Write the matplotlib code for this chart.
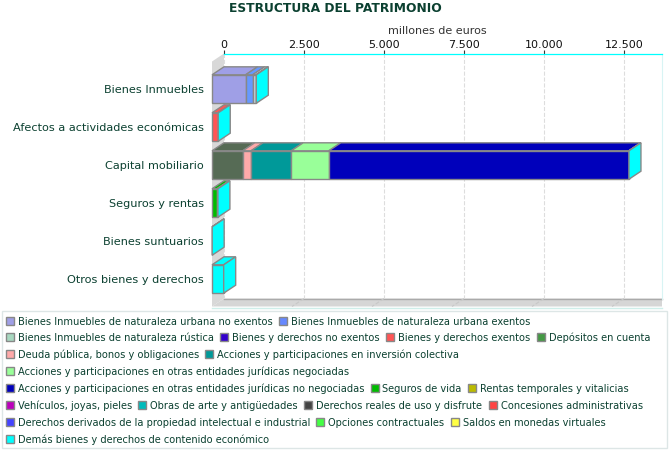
import matplotlib
matplotlib.use('Agg')
import matplotlib.pyplot as plt
from matplotlib.patches import Polygon, Rectangle
from matplotlib.transforms import Affine2D

# data, millones de euros
categories = ['Bienes Inmuebles', 'Afectos a actividades económicas', 'Capital mobiliario',
              'Seguros y rentas', 'Bienes suntuarios', 'Otros bienes y derechos']
urbana_no_exentos = [1050, 0, 0, 0, 0, 0]
urbana_exentos = [220, 0, 0, 0, 0, 0]
rustica = [110, 0, 0, 0, 0, 0]
bienes_exentos = [0, 190, 0, 0, 0, 0]
depositos = [0, 0, 960, 0, 0, 0]
deuda = [0, 0, 260, 0, 0, 0]
inversion_colectiva = [0, 0, 1255, 0, 0, 0]
negociadas = [0, 0, 1175, 0, 0, 0]
no_negociadas = [0, 0, 9375, 0, 0, 0]
seguros = [0, 0, 0, 155, 0, 0]
demas = [5, 5, 5, 30, 5, 365]

stack_values = [urbana_no_exentos, urbana_exentos, rustica, bienes_exentos, depositos, deuda,
                inversion_colectiva, negociadas, no_negociadas, seguros, demas]
stack_colors = ['#9f9fe6', '#6699ff', '#c4d8e0', '#ff5555', '#566b55', '#ffaaaa',
                '#009999', '#99ff99', '#0000bb', '#00bb00', '#00ffff']

xticks = [0, 2500, 5000, 7500, 10000, 12500]
xticklabels = ['0', '2.500', '5.000', '7.500', '10.000', '12.500']

legend_rows = [
    [('Bienes Inmuebles de naturaleza urbana no exentos', '#9f9fe6'),
     ('Bienes Inmuebles de naturaleza urbana exentos', '#6688ff')],
    [('Bienes Inmuebles de naturaleza rústica', '#a8d8c0'),
     ('Bienes y derechos no exentos', '#3300cc'),
     ('Bienes y derechos exentos', '#ff5555'),
     ('Depósitos en cuenta', '#449944')],
    [('Deuda pública, bonos y obligaciones', '#ffaaaa'),
     ('Acciones y participaciones en inversión colectiva', '#009999')],
    [('Acciones y participaciones en otras entidades jurídicas negociadas', '#99ff99')],
    [('Acciones y participaciones en otras entidades jurídicas no negociadas', '#0000bb'),
     ('Seguros de vida', '#00bb00'),
     ('Rentas temporales y vitalicias', '#bbbb00')],
    [('Vehículos, joyas, pieles', '#bb00bb'),
     ('Obras de arte y antigüedades', '#00bbbb'),
     ('Derechos reales de uso y disfrute', '#444444'),
     ('Concesiones administrativas', '#ff4444')],
    [('Derechos derivados de la propiedad intelectual e industrial', '#4444ff'),
     ('Opciones contractuales', '#44ff44'),
     ('Saldos en monedas virtuales', '#ffff44')],
    [('Demás bienes y derechos de contenido económico', '#00ffff')],
]

W, H = 670, 450
TEXT = '#0b4030'
EDGE = '#888888'
DX, DY = 12, 8  # profundidad 3d en pixeles

fig = plt.figure(figsize=(W / 100, H / 100), dpi=100)
ax = fig.add_axes([224 / W, 1 - 298.5 / H, 438 / W, (298.5 - 54) / H])
ax.set_xlim(0, 438 / 0.032)
ax.set_ylim(5.724, -0.711)
for s in ['left', 'bottom']:
    ax.spines[s].set_visible(False)
ax.spines['top'].set_color('#00ffff')
ax.spines['top'].set_linewidth(0.9)
ax.spines['right'].set_color('#d8f4f4')
ax.xaxis.tick_top()
ax.set_xticks(xticks)
ax.set_xticklabels(xticklabels, fontsize=8, color='#111111')
ax.tick_params(axis='x', length=3, width=0.8, color='#333333', pad=0)
# las etiquetas van centradas en la cara frontal, no en el fondo
ax.set_yticks([i + DY / 38 for i in range(len(categories))])
ax.set_yticklabels(categories, fontsize=8.15, color=TEXT)
ax.tick_params(axis='y', length=0, pad=14.4)
ax.grid(axis='x', color='#dddddd', linestyle='--', linewidth=0.8)
ax.set_axisbelow(True)

front = ax.transData + Affine2D().translate(-DX, -DY)
px = Affine2D().scale(1, -1).translate(0, H)  # pixeles de la imagen, y hacia abajo

# pared y suelo
fig.add_artist(Polygon([(212, 61.5), (224, 53.5), (224, 298.5), (212, 306.5)], closed=True,
                       fc='#d8d8d8', ec='none', transform=px, zorder=0.5))
fig.add_artist(Polygon([(212, 306.5), (224, 298.5), (662, 298.5), (662, 306.5)], closed=True,
                       fc='#d6d6d6', ec='none', transform=px, zorder=0.5))
fig.add_artist(plt.Line2D([224, 662], [298.5, 298.5], color='#aaaaaa', lw=1, transform=px, zorder=0.6))
fig.add_artist(plt.Line2D([212, 662], [307.5, 307.5], color='#cfeeea', lw=1, transform=px, zorder=0.6))
ax.patch.set_alpha(0)
ax.set_zorder(1)
for t in xticks[1:]:
    xp = 224 + t * 0.032
    fig.add_artist(plt.Line2D([xp, xp - 12], [298.5, 306.5], color='#c8c8c8', lw=0.8, ls='--',
                              transform=px, zorder=0.6))

bar_h = 28.4 / 38
for row in range(len(categories)):
    left = 0
    last_color = None
    y0, y1 = row - bar_h / 2, row + bar_h / 2
    for vals, color in zip(stack_values, stack_colors):
        v = vals[row]
        if v == 0:
            continue
        right = left + v
        ax.add_patch(Rectangle((left, y0), v, bar_h, fc=color, ec=EDGE, lw=1,
                               transform=front, zorder=3, clip_on=False))
        # cara superior
        a = front.transform([(left, y0), (right, y0)])
        b = ax.transData.transform([(right, y0), (left, y0)])
        ax.add_patch(Polygon([a[0], a[1], b[0], b[1]], closed=True, fc=color, ec=EDGE, lw=1,
                             transform=None, zorder=2.5, clip_on=False))
        left = right
        last_color = color
    # cara lateral
    a = front.transform([(left, y0), (left, y1)])
    b = ax.transData.transform([(left, y1), (left, y0)])
    ax.add_patch(Polygon([a[0], a[1], b[0], b[1]], closed=True, fc=last_color, ec=EDGE, lw=1,
                         transform=None, zorder=3.5, clip_on=False))

fig.text(335 / W, 1 - 8.5 / H, 'ESTRUCTURA DEL PATRIMONIO', ha='center', va='center',
         fontsize=8.85, fontweight='bold', color=TEXT)
fig.text(437.5 / W, 1 - 30.5 / H, 'millones de euros', ha='center', va='center',
         fontsize=8, color='#333333')

# leyenda
fig.add_artist(Rectangle((2, 311), 665, 137, fc='white', ec='#dde6e6', lw=1, transform=px, zorder=0.5))
row_y = [321.7, 337.7, 354.7, 371.7, 388.7, 405.7, 422.7, 439.7]
renderer = fig.canvas.get_renderer()
for entries, y in zip(legend_rows, row_y):
    x = 5
    for label, color in entries:
        fig.add_artist(Rectangle((x + 0.5, y - 4.5), 8, 8, fc=color, ec=EDGE, lw=1, transform=px, zorder=2))
        t = fig.text((x + 12.5) / W, 1 - y / H, label, ha='left', va='center', fontsize=7.15, color=TEXT)
        x = t.get_window_extent(renderer).x1 + 6

fig.savefig('out.png', dpi=100)
